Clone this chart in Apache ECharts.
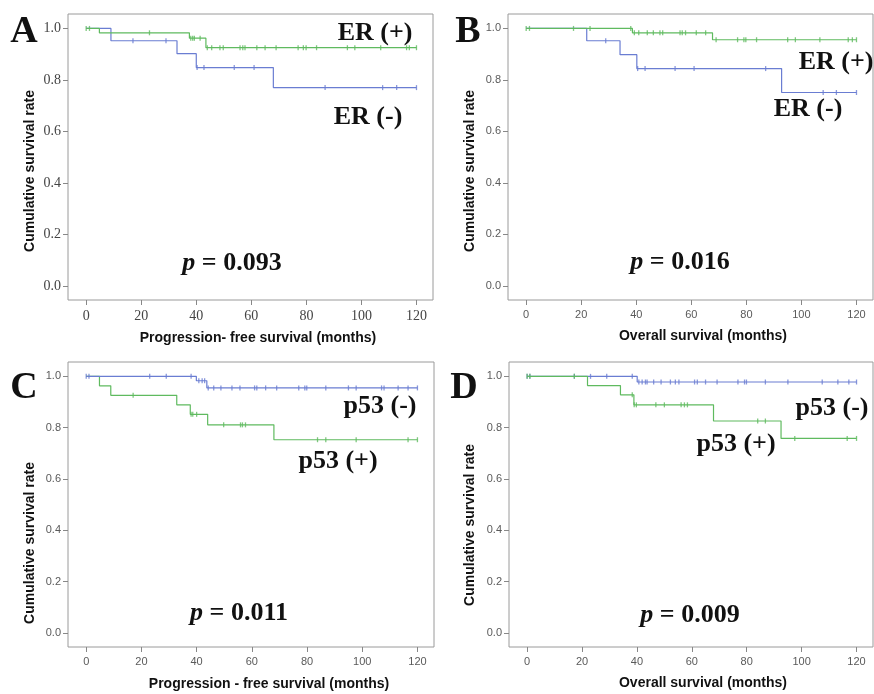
<!DOCTYPE html>
<html>
<head>
<meta charset="utf-8">
<script src="https://cdn.jsdelivr.net/npm/echarts@6/dist/echarts.min.js"></script>
<style>
    html, body { margin: 0; padding: 0; background: #fff; }
    #main { width: 874px; height: 694px; }
</style>
</head>
<body>
<div id="main"></div>
<script>
'use strict';
// 刻度
var xTicks = [0, 20, 40, 60, 80, 100, 120];
var yTicks = [0, 0.2, 0.4, 0.6, 0.8, 1.0];

// A: ER, progression-free survival
var erPosPfsEvents = [4.8, 37.5, 43.5];
var erPosPfsSurv = [0.983, 0.962, 0.925];
var erPosPfsCensor = [0, 1.2, 23, 38, 38.7, 39.3, 41.4, 44, 45.6, 48.6, 49.8, 55.9, 56.9, 57.7, 62, 65, 69, 77, 78.9, 79.9, 83.7, 94.9, 97.6, 107, 116.4, 117.4, 120];
var erNegPfsEvents = [9, 33, 40, 68];
var erNegPfsSurv = [0.952, 0.902, 0.848, 0.770];
var erNegPfsCensor = [17, 29, 40.3, 42.8, 53.8, 61, 86.8, 107.7, 112.8, 120];

// B: ER, overall survival
var erPosOsEvents = [38.6, 67.7];
var erPosOsSurv = [0.983, 0.956];
var erPosOsCensor = [0, 1.2, 17.2, 23.2, 38, 39.3, 40.9, 44, 46.2, 48.6, 49.6, 55.9, 56.7, 57.9, 61.8, 65.2, 69, 76.8, 79.1, 79.8, 83.7, 95, 97.8, 106.7, 117, 118.5, 120];
var erNegOsEvents = [22, 34.1, 40.2, 92.8];
var erNegOsSurv = [0.952, 0.898, 0.844, 0.751];
var erNegOsCensor = [28.9, 40.5, 43.2, 54.1, 61, 87, 107.9, 112.7, 120];

// C: p53, progression-free survival
var p53NegPfsEvents = [39.9, 43.7];
var p53NegPfsSurv = [0.983, 0.955];
var p53NegPfsCensor = [0, 1, 23, 29, 38, 40.8, 42, 42.9, 44.2, 46.2, 48.8, 52.8, 55.7, 61, 61.8, 65, 69, 77, 79.2, 79.9, 86.8, 95, 97.8, 107, 107.9, 113, 116.6, 120];
var p53PosPfsEvents = [4.8, 8.9, 32.8, 37.7, 44, 68];
var p53PosPfsSurv = [0.963, 0.926, 0.889, 0.852, 0.811, 0.753];
var p53PosPfsCensor = [17, 38, 38.6, 40, 49.8, 55.9, 56.6, 57.7, 83.8, 86.8, 97.8, 116.6, 120];

// D: p53, overall survival
var p53NegOsEvents = [40.1];
var p53NegOsSurv = [0.978];
var p53NegOsCensor = [0, 1, 17.2, 23.1, 29, 38.3, 40.7, 41.9, 43.1, 43.7, 46.1, 48.8, 52.2, 54, 55.3, 61, 62, 65, 69.2, 76.8, 79.2, 79.9, 86.8, 95, 107.5, 113.2, 117.2, 120];
var p53PosOsEvents = [22, 34, 38.9, 67.9, 92.5];
var p53PosOsSurv = [0.964, 0.928, 0.889, 0.826, 0.758];
var p53PosOsCensor = [0, 1, 17.2, 38.3, 39, 39.8, 46.9, 50, 56.1, 57.3, 58.4, 84, 86.8, 97.5, 116.6, 120];

var GREEN = '#5fba5f';
var BLUE = '#6a7dd2';
var SERIF = '"Liberation Serif", "DejaVu Serif", serif';
var SANS = '"Liberation Sans", Arial, sans-serif';

// 生存率查找
function survAt(events, surv, t) {
    var s = 1;
    for (var i = 0; i < events.length; i++) {
        if (events[i] <= t) {
            s = surv[i];
        }
    }
    return s;
}

var panels = [
    {grid: {left: 68, top: 14, width: 365, height: 286}, serif: true,
        curves: [
            {events: erNegPfsEvents, surv: erNegPfsSurv, censor: erNegPfsCensor, color: BLUE},
            {events: erPosPfsEvents, surv: erPosPfsSurv, censor: erPosPfsCensor, color: GREEN}
        ]},
    {grid: {left: 508, top: 14, width: 365, height: 286}, serif: false,
        curves: [
            {events: erNegOsEvents, surv: erNegOsSurv, censor: erNegOsCensor, color: BLUE},
            {events: erPosOsEvents, surv: erPosOsSurv, censor: erPosOsCensor, color: GREEN}
        ]},
    {grid: {left: 68, top: 362, width: 366, height: 285}, serif: false,
        curves: [
            {events: p53PosPfsEvents, surv: p53PosPfsSurv, censor: p53PosPfsCensor, color: GREEN},
            {events: p53NegPfsEvents, surv: p53NegPfsSurv, censor: p53NegPfsCensor, color: BLUE}
        ]},
    {grid: {left: 509, top: 362, width: 364, height: 285}, serif: false,
        curves: [
            {events: p53NegOsEvents, surv: p53NegOsSurv, censor: p53NegOsCensor, color: BLUE},
            {events: p53PosOsEvents, surv: p53PosOsSurv, censor: p53PosOsCensor, color: GREEN}
        ]}
];

var grids = [], xAxes = [], yAxes = [], series = [];
panels.forEach(function (p, idx) {
    var g = p.grid;
    grids.push({left: g.left, top: g.top, width: g.width, height: g.height,
        show: true, borderColor: '#9a9a9a', borderWidth: 1, containLabel: false});
    var labelStyle = p.serif
        ? {fontFamily: SERIF, fontSize: 14, color: '#444'}
        : {fontFamily: SANS, fontSize: 11, color: '#5a5a5a'};
    xAxes.push({
        type: 'value', gridIndex: idx, min: -6.6, max: 126, position: 'bottom',
        axisLine: {show: false, onZero: false},
        axisTick: {show: true, length: 5, customValues: xTicks, lineStyle: {color: '#888'}},
        axisLabel: Object.assign({customValues: xTicks, margin: 9}, labelStyle),
        splitLine: {show: false}
    });
    yAxes.push({
        type: 'value', gridIndex: idx, min: -0.055, max: 1.056, position: 'left',
        axisLine: {show: false, onZero: false},
        axisTick: {show: true, length: 5, customValues: yTicks, lineStyle: {color: '#888'}},
        axisLabel: Object.assign({customValues: yTicks, margin: 7,
            formatter: function (v) { return v.toFixed(1); }}, labelStyle),
        splitLine: {show: false}
    });
    p.curves.forEach(function (c) {
        var last = c.censor[c.censor.length - 1];
        var pts = [[0, 1]];
        for (var i = 0; i < c.events.length; i++) {
            pts.push([c.events[i], c.surv[i]]);
        }
        pts.push([last, c.surv[c.surv.length - 1]]);
        series.push({
            type: 'line', xAxisIndex: idx, yAxisIndex: idx, step: 'end',
            data: pts, showSymbol: false, silent: true,
            lineStyle: {color: c.color, width: 1.2}
        });
        series.push({
            type: 'scatter', xAxisIndex: idx, yAxisIndex: idx,
            data: c.censor.map(function (t) { return [t, survAt(c.events, c.surv, t)]; }),
            symbol: 'rect', symbolSize: [1.3, 5], silent: true,
            itemStyle: {color: c.color}
        });
    });
});

// 文字
function txt(x, y, text, font, rot) {
    return {type: 'text', x: x, y: y, rotation: rot || 0, silent: true,
        style: {text: text, font: font, fill: '#111', align: 'center', verticalAlign: 'middle'}};
}
function pval(x, y, num) {
    return {type: 'text', x: x, y: y, silent: true,
        style: {text: '{i|p} = ' + num, font: 'bold 26px ' + SERIF, fill: '#111',
            align: 'center', verticalAlign: 'middle',
            rich: {i: {fontStyle: 'italic', fontWeight: 'bold', fontSize: 26, fontFamily: SERIF, fill: '#111'}}}};
}
var letterFont = 'bold 38px ' + SERIF;
var groupFont = 'bold 26px ' + SERIF;
var nameFont = 'bold 14px ' + SANS;
var graphics = [
    txt(24, 32, 'A', letterFont), txt(468, 32, 'B', letterFont),
    txt(24, 388, 'C', letterFont), txt(464, 388, 'D', letterFont),
    txt(375, 33, 'ER (+)', groupFont), txt(368, 117, 'ER (-)', groupFont),
    txt(836, 62, 'ER (+)', groupFont), txt(808, 109, 'ER (-)', groupFont),
    txt(380, 406, 'p53 (-)', groupFont), txt(338, 461, 'p53 (+)', groupFont),
    txt(832, 408, 'p53 (-)', groupFont), txt(736, 444, 'p53 (+)', groupFont),
    pval(232, 263, '0.093'), pval(680, 262, '0.016'),
    pval(239, 613, '0.011'), pval(690, 615, '0.009'),
    txt(30, 171, 'Cumulative survival rate', nameFont, Math.PI / 2),
    txt(470, 171, 'Cumulative survival rate', nameFont, Math.PI / 2),
    txt(30, 543, 'Cumulative survival rate', nameFont, Math.PI / 2),
    txt(470, 525, 'Cumulative survival rate', nameFont, Math.PI / 2),
    txt(258, 338, 'Progression- free survival (months)', nameFont),
    txt(703, 336, 'Overall survival (months)', nameFont),
    txt(269, 684, 'Progression - free survival (months)', nameFont),
    txt(703, 683, 'Overall survival (months)', nameFont)
];

var myChart = echarts.init(document.getElementById('main'));
myChart.setOption({
    animation: false,
    backgroundColor: '#fff',
    grid: grids,
    xAxis: xAxes,
    yAxis: yAxes,
    series: series,
    graphic: graphics
});
</script>
</body>
</html>
